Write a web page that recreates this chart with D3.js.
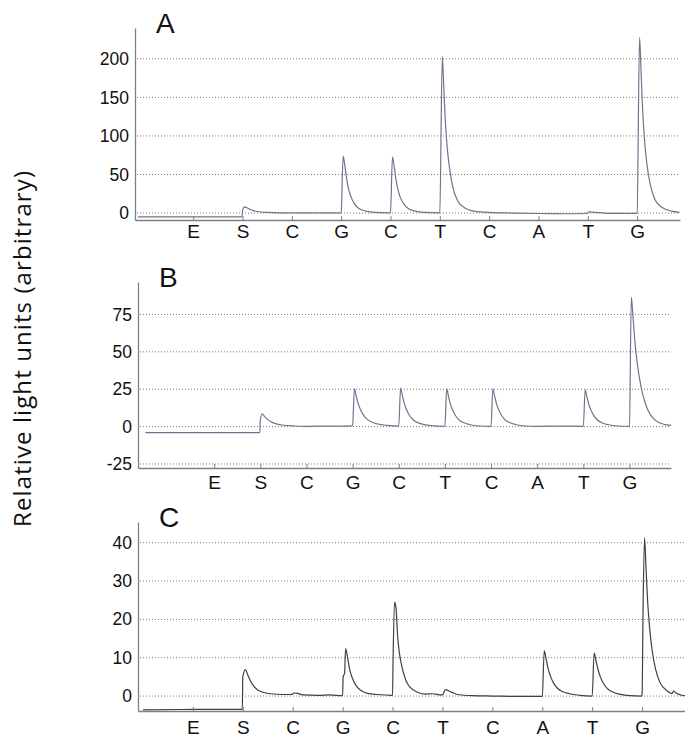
<!DOCTYPE html>
<html>
<head>
<meta charset="utf-8">
<script src="https://cdn.jsdelivr.net/npm/d3@7"></script>
<style>
  body { margin: 0; background: #fff; }
  svg { display: block; }
</style>
</head>
<body>
<div id="chart"></div>
<script>
// Dispensation order shown under every panel.
const dispensations = ["E", "S", "C", "G", "C", "T", "C", "A", "T", "G"];
const panelNames = ["A", "B", "C"];

// Y tick values per panel.
const ticksA = [0, 50, 100, 150, 200];
const ticksB = [-25, 0, 25, 50, 75];
const ticksC = [0, 10, 20, 30, 40];

// Pyrogram traces: [dispensation position, relative light units].
const traceA = [
  [-0.12, -5], [1.99, -5], [2.0, 3], [2.04, 8], [2.1, 6.5], [2.18, 4], [2.3, 2], [2.5, 0.8], [2.8, 0.2],
  [3.5, 0.2], [3.99, 0.2],
  [4.0, 0.5], [4.04, 74], [4.08, 59], [4.11, 45], [4.15, 31], [4.2, 21], [4.27, 12], [4.36, 6], [4.5, 2.6], [4.7, 0.9], [4.98, 0.3],
  [5.0, 0.5], [5.04, 73], [5.08, 58], [5.11, 44], [5.15, 31], [5.2, 20], [5.27, 12], [5.36, 6], [5.5, 2.5], [5.7, 0.9], [5.98, 0.3],
  [6.0, 0.5], [6.05, 203], [6.08, 165], [6.11, 122], [6.15, 85], [6.2, 57], [6.27, 32], [6.36, 16], [6.5, 7], [6.7, 2.5], [7.0, 0.8],
  [7.5, 0], [8.0, -0.6], [8.5, -0.9], [8.96, -0.6], [9.04, 1.6], [9.15, 0.8], [9.4, -0.3], [9.98, -0.5],
  [10.0, 0], [10.05, 228], [10.08, 185], [10.11, 137], [10.15, 95], [10.2, 63], [10.27, 36], [10.36, 18], [10.5, 7.5], [10.7, 2.5], [10.86, 1]
];

const traceB = [
  [-0.49, -4], [1.99, -4], [2.0, 4], [2.04, 8.5], [2.1, 6.5], [2.17, 4.5], [2.25, 3], [2.35, 1.8], [2.5, 0.9], [2.75, 0.4],
  [3.0, 0.2], [3.5, 0.3], [3.98, 0.5],
  [4.0, 0.8], [4.04, 25.3], [4.08, 20], [4.12, 15.5], [4.17, 11.5], [4.23, 8], [4.3, 5.3], [4.4, 3.2], [4.55, 1.7], [4.75, 0.8], [4.98, 0.3],
  [5.0, 0.3], [5.04, 25.8], [5.08, 20.5], [5.12, 15.5], [5.17, 11.2], [5.23, 7.6], [5.3, 4.9], [5.4, 2.8], [5.55, 1.3], [5.75, 0.5], [5.98, 0.2],
  [6.0, 0.2], [6.04, 25.2], [6.08, 20], [6.12, 15], [6.17, 11], [6.23, 7.4], [6.3, 4.7], [6.4, 2.7], [6.55, 1.2], [6.75, 0.4], [6.98, 0.2],
  [7.0, 0.2], [7.04, 25.3], [7.08, 20.2], [7.12, 15.2], [7.17, 11], [7.23, 7.4], [7.3, 4.7], [7.4, 2.7], [7.55, 1.2], [7.75, 0.4],
  [8.0, 0.2], [8.5, 0.3], [8.98, 0.2],
  [9.0, 0.2], [9.04, 24.6], [9.08, 19.6], [9.12, 14.8], [9.17, 10.8], [9.23, 7.2], [9.3, 4.6], [9.4, 2.6], [9.55, 1.2], [9.75, 0.4], [9.98, 0.2],
  [10.0, 0.3], [10.04, 86.5], [10.08, 72], [10.12, 56], [10.17, 42], [10.23, 30], [10.3, 20], [10.4, 11], [10.55, 4.5], [10.75, 1.5], [10.9, 0.8]
];

const traceC = [
  [0.0, -3.6], [1.0, -3.5], [1.99, -3.5], [2.0, 5], [2.05, 6.9], [2.1, 5.5], [2.15, 4], [2.22, 2.6], [2.3, 1.6], [2.4, 1], [2.55, 0.6],
  [2.8, 0.4], [2.98, 0.4], [3.02, 0.8], [3.1, 0.7], [3.2, 0.3], [3.5, 0.2], [3.75, 0.3], [3.98, 0.1],
  [4.0, 0.1], [4.01, 5], [4.04, 6], [4.06, 12.4], [4.1, 10], [4.14, 7], [4.2, 4.5], [4.27, 2.7], [4.36, 1.5], [4.5, 0.7], [4.7, 0.4], [4.98, 0.2],
  [5.0, 0.2], [5.01, 8.6], [5.04, 24.5], [5.07, 23], [5.1, 16], [5.14, 11], [5.2, 7], [5.27, 4], [5.36, 2.2], [5.5, 1], [5.65, 0.5], [5.8, 0.6], [5.98, 0.3],
  [6.0, 0.3], [6.06, 1.7], [6.15, 1.2], [6.3, 0.4], [6.6, 0.1], [7.0, 0.0], [7.5, -0.1], [7.98, -0.1],
  [8.0, 0], [8.04, 11.8], [8.08, 9.5], [8.12, 7], [8.17, 5], [8.23, 3.3], [8.3, 2.1], [8.4, 1.2], [8.55, 0.6], [8.75, 0.2], [8.98, 0],
  [9.0, 0], [9.04, 11.2], [9.08, 9], [9.12, 6.8], [9.17, 4.8], [9.23, 3.2], [9.3, 2], [9.4, 1.1], [9.55, 0.5], [9.75, 0.1], [9.98, 0],
  [10.0, 0.3], [10.02, 23], [10.05, 41.3], [10.08, 33], [10.11, 25], [10.15, 18], [10.2, 12], [10.27, 7], [10.36, 3.5], [10.5, 1.4],
  [10.6, 0.6], [10.63, 1.3], [10.68, 0.8], [10.8, 0.2], [10.86, 0.1]
];

/**
 * Layout.
 */
const width = 685;
const height = 756;

// Plot frames, axis domains and styles for every panel.
const panels = [
  { name: panelNames[0], trace: traceA, ticks: ticksA, xDomain: [-0.18, 10.87], yDomain: [-9, 240],
    left: 135, right: 680, top: 28, bottom: 220, labelPad: 5, color: "#72728f" },
  { name: panelNames[1], trace: traceB, ticks: ticksB, xDomain: [-0.65, 10.9], yDomain: [-27.7, 96.7],
    left: 138, right: 671, top: 282, bottom: 468, labelPad: 7.5, color: "#72728f" },
  { name: panelNames[2], trace: traceC, ticks: ticksC, xDomain: [-0.1, 10.86], yDomain: [-3.9, 45.4],
    left: 138, right: 685, top: 522, bottom: 711, labelPad: 9.5, color: "#404040" }
];

const svg = d3.select("#chart")
  .append("svg")
  .attr("width", width)
  .attr("height", height)
  .style("font-family", "'Liberation Sans', Arial, sans-serif");

panels.forEach((p) => {
  const x = d3.scaleLinear().domain(p.xDomain).range([p.left, p.right]);
  const y = d3.scaleLinear().domain(p.yDomain).range([p.bottom, p.top]);

  const g = svg.append("g");

  // Dotted grid lines.
  g.selectAll("line.grid")
    .data(p.ticks)
    .join("line")
    .attr("class", "grid")
    .attr("x1", p.left + 2)
    .attr("x2", p.right)
    .attr("y1", (d) => y(d))
    .attr("y2", (d) => y(d))
    .attr("stroke", "#7a7a7a")
    .attr("stroke-width", 1)
    .attr("stroke-dasharray", "1,2");

  // Trace.
  const line = d3.line()
    .x((d) => x(d[0]))
    .y((d) => y(d[1]))
    .curve(d3.curveMonotoneX);

  g.append("path")
    .datum(p.trace)
    .attr("d", line)
    .attr("fill", "none")
    .attr("stroke", p.color)
    .attr("stroke-width", 1.2)
    .attr("stroke-linejoin", "round");

  // Bottom axis with dispensation letters.
  const xAxis = g.append("g")
    .attr("transform", `translate(0,${p.bottom})`)
    .call(
      d3.axisBottom(x)
        .tickValues(d3.range(1, dispensations.length + 1))
        .tickFormat((i) => dispensations[i - 1])
        .tickSizeInner(-4)
        .tickSizeOuter(0)
        .tickPadding(p.labelPad)
    );
  xAxis.select(".domain").attr("stroke", "#808080").attr("stroke-width", 1.3);
  xAxis.selectAll(".tick line").attr("stroke", "#808080");
  xAxis.selectAll(".tick text")
    .attr("font-size", 19)
    .attr("fill", "#111")
    .style("font-family", "'Liberation Sans', Arial, sans-serif");

  // Left axis (plain hyphen for negative values, as in the original).
  const yAxis = g.append("g")
    .attr("transform", `translate(${p.left},0)`)
    .call(
      d3.axisLeft(y)
        .tickValues(p.ticks)
        .tickFormat((d) => String(d))
        .tickSize(0)
        .tickPadding(6)
    );
  yAxis.select(".domain").attr("stroke", "#808080").attr("stroke-width", 1.3);
  yAxis.selectAll(".tick text")
    .attr("font-size", 17.5)
    .attr("fill", "#111")
    .style("font-family", "'Liberation Sans', Arial, sans-serif");

  // Panel letter.
  g.append("text")
    .attr("x", p.left + 21)
    .attr("y", p.top + 5)
    .attr("font-size", 28)
    .attr("fill", "#111")
    .text(p.name);
});

// Shared y-axis title.
svg.append("text")
  .attr("transform", "translate(31,349) rotate(-90)")
  .attr("text-anchor", "middle")
  .attr("font-size", 24)
  .attr("textLength", 356)
  .attr("lengthAdjust", "spacing")
  .attr("fill", "#111")
  .style("font-family", "'Open Sans', 'Noto Sans', sans-serif")
  .text("Relative light units (arbitrary)");
</script>
</body>
</html>
